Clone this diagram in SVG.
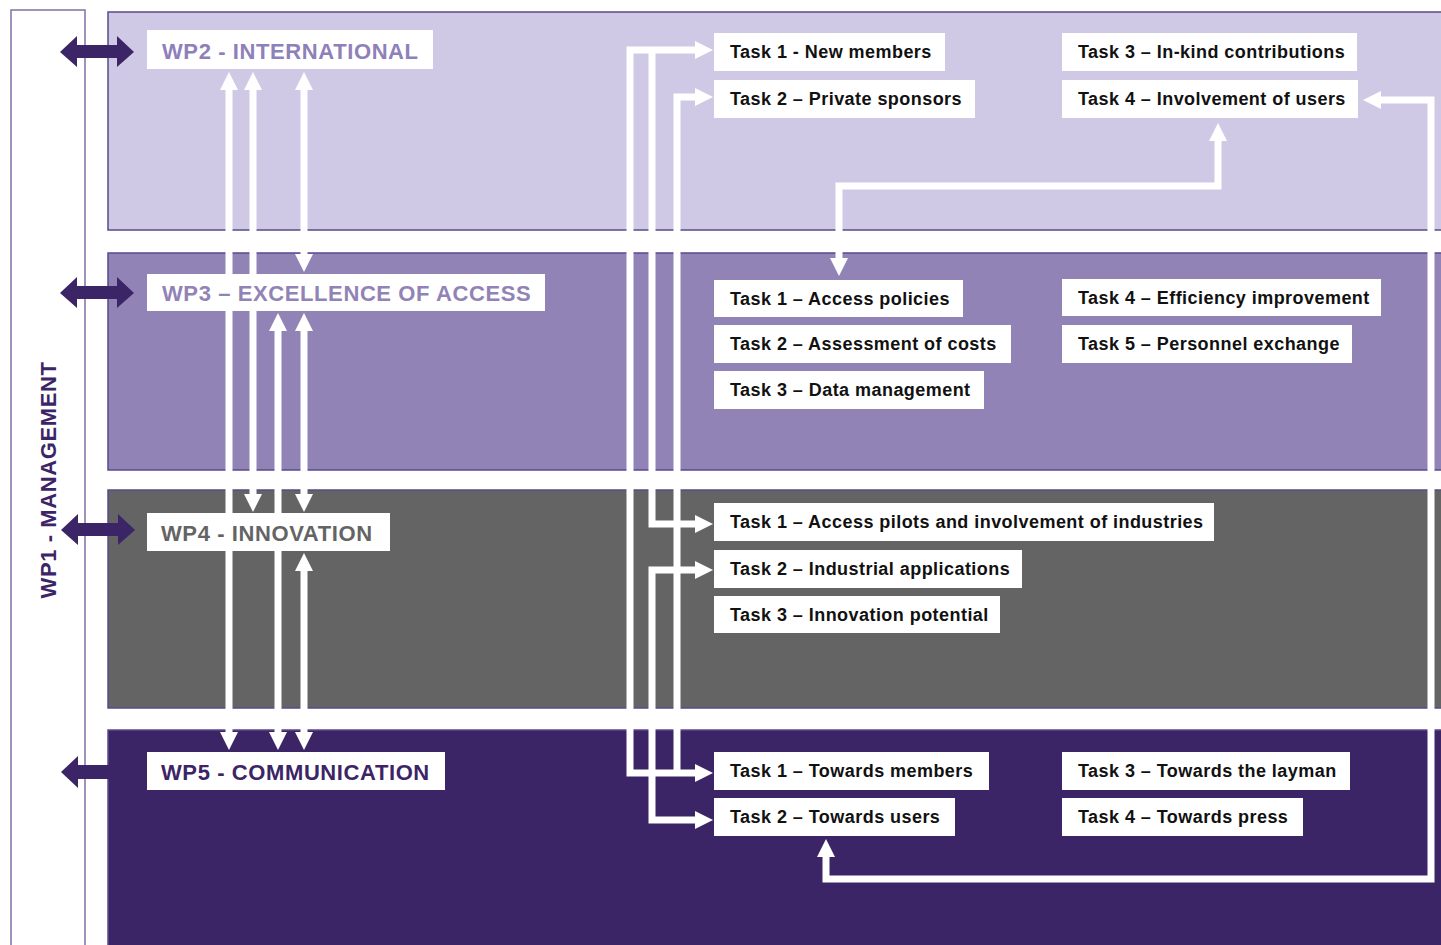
<svg xmlns="http://www.w3.org/2000/svg" width="1441" height="945" viewBox="0 0 1441 945">
<defs>
<style>
.panel{stroke:#5a4a8c;stroke-width:1.5}
.box{fill:#ffffff}
.task{font-family:"Liberation Sans",Arial,sans-serif;font-weight:bold;font-size:18px;letter-spacing:0.45px;fill:#111111}
.wp{font-family:"Liberation Sans",Arial,sans-serif;font-weight:bold;font-size:22px;letter-spacing:0.6px}
.conn{fill:none;stroke:#ffffff;stroke-width:7;stroke-linejoin:miter}
.dark{fill:#3c2566}
</style>
<marker id="ah" markerUnits="userSpaceOnUse" markerWidth="18" markerHeight="18" viewBox="0 0 18 18" refX="0" refY="9" orient="auto-start-reverse">
<path d="M0,0 L18,9 L0,18 z" fill="#ffffff"/>
</marker>
</defs>
<rect width="1441" height="945" fill="#ffffff"/>

<g id="wp1">
<path d="M11,945 V10 H85 V945" fill="#ffffff" stroke="#8070a8" stroke-width="1.5"/>
<text class="wp" fill="#3c2566" text-anchor="middle" transform="translate(56,480) rotate(-90)">WP1 - MANAGEMENT</text>
</g>

<g id="panels">
<rect id="panel-wp2" class="panel" x="108" y="12" width="1345" height="218" fill="#cfc9e6"/>
<rect id="panel-wp3" class="panel" x="108" y="253" width="1345" height="217" fill="#9283b6"/>
<rect id="panel-wp4" class="panel" x="108" y="490" width="1345" height="218" fill="#646464"/>
<rect id="panel-wp5" class="panel" x="108" y="730" width="1345" height="230" fill="#3c2566"/>
</g>

<g id="connectors">
<path class="conn" d="M229,90 V732" marker-start="url(#ah)" marker-end="url(#ah)"/>
<path class="conn" d="M253,90 V494" marker-start="url(#ah)" marker-end="url(#ah)"/>
<path class="conn" d="M278,331 V732" marker-start="url(#ah)" marker-end="url(#ah)"/>
<path class="conn" d="M304,90 V254" marker-start="url(#ah)" marker-end="url(#ah)"/>
<path class="conn" d="M304,331 V494" marker-start="url(#ah)" marker-end="url(#ah)"/>
<path class="conn" d="M304,571 V732" marker-start="url(#ah)" marker-end="url(#ah)"/>
<path class="conn" d="M695,50 H630 V773 H695" marker-start="url(#ah)" marker-end="url(#ah)"/>
<path class="conn" d="M652,50 V524 H695" marker-end="url(#ah)"/>
<path class="conn" d="M695,97 H677 V773" marker-start="url(#ah)"/>
<path class="conn" d="M695,570 H652 V820 H695" marker-start="url(#ah)" marker-end="url(#ah)"/>
<path class="conn" d="M1381,100 H1431 V879 H826 V857" marker-start="url(#ah)" marker-end="url(#ah)"/>
<path class="conn" d="M1218,141 V186 H839 V258" marker-start="url(#ah)" marker-end="url(#ah)"/>
</g>

<g id="mgmt-arrows">
<polygon class="dark" points="60,52 77,36 77,45 117,45 117,36 134,52 117,67 117,58 77,58 77,67"/>
<polygon class="dark" points="60,293 77,277 77,286 117,286 117,277 134,293 117,308 117,299 77,299 77,308"/>
<polygon class="dark" points="61,530 78,514 78,523 118,523 118,514 135,530 118,545 118,536 78,536 78,545"/>
<polygon class="dark" points="61,772 78,756 78,765 109,765 109,779 78,779 78,788"/>
</g>

<g id="wp2"><rect class="box" x="147" y="30" width="286" height="39"/><text class="wp" x="162" y="58.5" fill="#8e80b8">WP2 - INTERNATIONAL</text></g>
<g id="wp3"><rect class="box" x="147" y="274" width="398" height="37"/><text class="wp" x="162" y="301" fill="#9183b5">WP3 – EXCELLENCE OF ACCESS</text></g>
<g id="wp4"><rect class="box" x="147" y="513" width="243" height="38"/><text class="wp" x="161" y="540.5" fill="#646464">WP4 - INNOVATION</text></g>
<g id="wp5"><rect class="box" x="147" y="752" width="298" height="38"/><text class="wp" x="161" y="779.5" fill="#3c2566">WP5 - COMMUNICATION</text></g>

<g id="wp2-task1"><rect class="box" x="714" y="33" width="231" height="38"/><text class="task" x="730" y="58">Task 1 - New members</text></g>
<g id="wp2-task2"><rect class="box" x="714" y="80" width="261" height="38"/><text class="task" x="730" y="105">Task 2 – Private sponsors</text></g>
<g id="wp2-task3"><rect class="box" x="1062" y="33" width="295" height="38"/><text class="task" x="1078" y="58">Task 3 – In-kind contributions</text></g>
<g id="wp2-task4"><rect class="box" x="1062" y="80" width="296" height="38"/><text class="task" x="1078" y="105">Task 4 – Involvement of users</text></g>

<g id="wp3-task1"><rect class="box" x="714" y="280" width="249" height="37"/><text class="task" x="730" y="304.5">Task 1 – Access policies</text></g>
<g id="wp3-task2"><rect class="box" x="714" y="325" width="297" height="38"/><text class="task" x="730" y="350">Task 2 – Assessment of costs</text></g>
<g id="wp3-task3"><rect class="box" x="714" y="371" width="270" height="38"/><text class="task" x="730" y="396">Task 3 – Data management</text></g>
<g id="wp3-task4"><rect class="box" x="1062" y="279" width="319" height="37"/><text class="task" x="1078" y="303.5">Task 4 – Efficiency improvement</text></g>
<g id="wp3-task5"><rect class="box" x="1062" y="325" width="290" height="38"/><text class="task" x="1078" y="350">Task 5 – Personnel exchange</text></g>

<g id="wp4-task1"><rect class="box" x="714" y="503" width="500" height="38"/><text class="task" x="730" y="528">Task 1 – Access pilots and involvement of industries</text></g>
<g id="wp4-task2"><rect class="box" x="714" y="550" width="308" height="38"/><text class="task" x="730" y="575">Task 2 – Industrial applications</text></g>
<g id="wp4-task3"><rect class="box" x="714" y="596" width="286" height="37"/><text class="task" x="730" y="620.5">Task 3 – Innovation potential</text></g>

<g id="wp5-task1"><rect class="box" x="714" y="752" width="275" height="38"/><text class="task" x="730" y="777">Task 1 – Towards members</text></g>
<g id="wp5-task2"><rect class="box" x="714" y="798" width="241" height="38"/><text class="task" x="730" y="823">Task 2 – Towards users</text></g>
<g id="wp5-task3"><rect class="box" x="1062" y="752" width="288" height="38"/><text class="task" x="1078" y="777">Task 3 – Towards the layman</text></g>
<g id="wp5-task4"><rect class="box" x="1062" y="798" width="241" height="38"/><text class="task" x="1078" y="823">Task 4 – Towards press</text></g>
</svg>
